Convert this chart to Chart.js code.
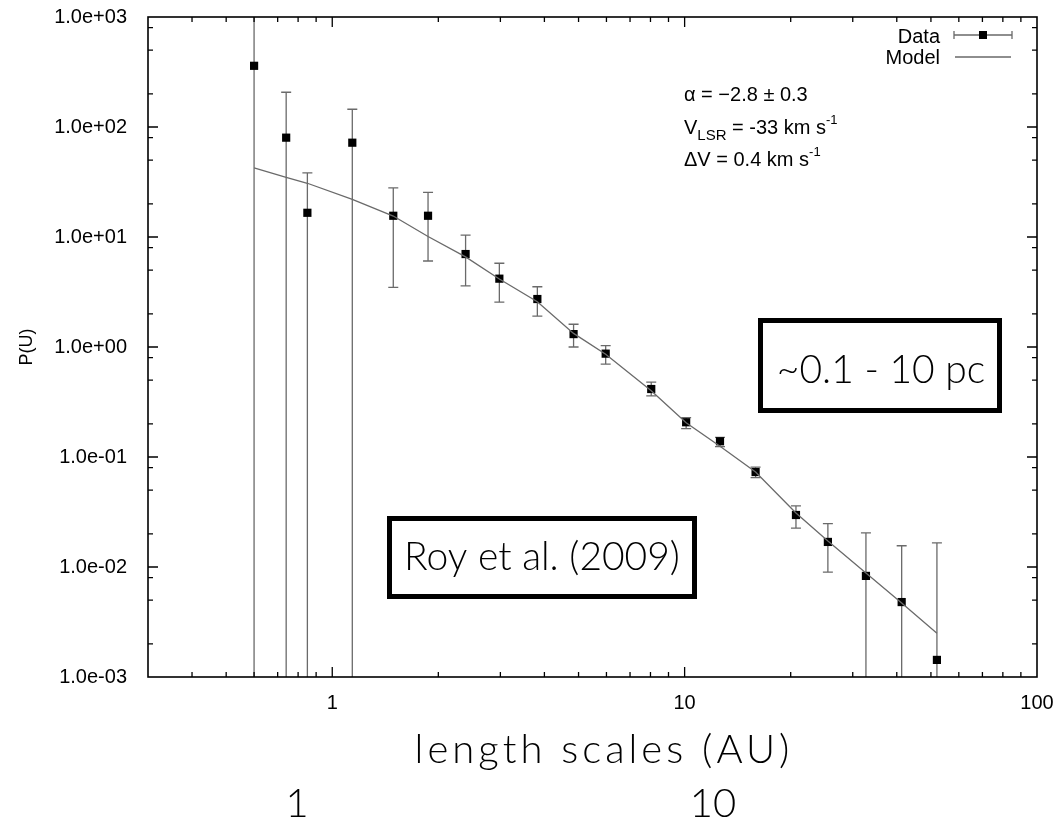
<!DOCTYPE html>
<html>
<head>
<meta charset="utf-8">
<script src="https://cdn.jsdelivr.net/npm/chart.js@4.4.1/dist/chart.umd.min.js"></script>
<style>
html,body{margin:0;padding:0;background:#fff;}
</style>
</head>
<body>
<canvas id="myChart" width="1055" height="819"></canvas>
<script>
// length scales (AU) of the measured points
var lengthAU = [0.60, 0.74, 0.85, 1.14, 1.49, 1.87, 2.39, 2.98, 3.82, 4.84, 5.97, 8.04, 10.1, 12.6, 15.9, 20.7, 25.5, 32.7, 41.3, 52.0];
// P(U) and its error bar ends (bottoms off the axis are shown as 1e-4)
var pData = [360, 80, 16.6, 72, 15.6, 15.6, 7.0, 4.18, 2.73, 1.31, 0.87, 0.415, 0.207, 0.139, 0.073, 0.0297, 0.0169, 0.0083, 0.0048, 0.00143];
var errHigh = [3000, 207, 38.2, 145, 28, 25.5, 10.4, 5.77, 3.53, 1.61, 1.03, 0.48, 0.228, 0.151, 0.081, 0.036, 0.0248, 0.0204, 0.0156, 0.0166];
var errLow = [0.0001, 0.0001, 0.0001, 0.0001, 3.49, 6.05, 3.6, 2.56, 1.91, 1.0, 0.70, 0.36, 0.181, 0.124, 0.065, 0.0226, 0.009, 0.0001, 0.0001, 0.0001];
// fitted model
var pModel = [42.4, 34.9, 30.8, 22, 15.5, 10.1, 6.6, 4.15, 2.58, 1.33, 0.86, 0.40, 0.205, 0.125, 0.073, 0.031, 0.0172, 0.0088, 0.0047, 0.0025];

var xMajorTicks = [1, 10, 100];
var xTickLabels = ['1', '10', '100'];
var xMinorTicks = [0.3, 0.4, 0.5, 0.6, 0.7, 0.8, 0.9, 2, 3, 4, 5, 6, 7, 8, 9, 20, 30, 40, 50, 60, 70, 80, 90];
var yMajorTicks = [0.001, 0.01, 0.1, 1, 10, 100, 1000];
var yTickLabels = ['1.0e-03', '1.0e-02', '1.0e-01', '1.0e+00', '1.0e+01', '1.0e+02', '1.0e+03'];
var yMinorTicks = [0.002, 0.005, 0.008, 0.02, 0.05, 0.08, 0.2, 0.5, 0.8, 2, 5, 8, 20, 50, 80, 200, 500, 800];

var SANS = "'Liberation Sans', Arial, sans-serif";
var THIN = "Lato, 'Open Sans', sans-serif";
var GREY = '#6a6a6a';

function labelFor(v, majors, labels){
	for(var i=0;i<majors.length;i++){
		if(Math.abs(v/majors[i]-1)<1e-6) return labels[i];
	}
	return '';
}
function isMajor(v){
	var l=Math.log10(v);
	return Math.abs(l-Math.round(l))<1e-6;
}
function tickList(a, b){
	return a.concat(b).sort(function(p,q){return p-q;}).map(function(v){return {value:v};});
}

var extras = {
	id: 'extras',
	beforeDatasetsDraw: function(chart){
		var ctx=chart.ctx, xs=chart.scales.x, ys=chart.scales.y, a=chart.chartArea;
		ctx.save();
		ctx.beginPath();
		ctx.rect(a.left, a.top, a.right-a.left, a.bottom-a.top);
		ctx.clip();
		ctx.strokeStyle=GREY;
		ctx.lineWidth=1.3;
		for(var i=0;i<lengthAU.length;i++){
			var px=xs.getPixelForValue(lengthAU[i]);
			var y1=ys.getPixelForValue(errHigh[i]), y2=ys.getPixelForValue(errLow[i]);
			ctx.beginPath();
			ctx.moveTo(px,y1); ctx.lineTo(px,y2);
			ctx.moveTo(px-5,y1); ctx.lineTo(px+5,y1);
			ctx.moveTo(px-5,y2); ctx.lineTo(px+5,y2);
			ctx.stroke();
		}
		ctx.restore();
	},
	afterDraw: function(chart){
		var ctx=chart.ctx, xs=chart.scales.x, ys=chart.scales.y, a=chart.chartArea;
		ctx.save();
		// frame + inward ticks on all sides
		ctx.strokeStyle='#000';
		ctx.lineWidth=1.6;
		ctx.strokeRect(a.left, a.top, a.right-a.left, a.bottom-a.top);
		ctx.lineWidth=1.3;
		ctx.beginPath();
		xs.ticks.forEach(function(t){
			var px=xs.getPixelForValue(t.value);
			if(px<=a.left+1||px>=a.right-1) return;
			var len=isMajor(t.value)?10:5;
			ctx.moveTo(px,a.bottom); ctx.lineTo(px,a.bottom-len);
			ctx.moveTo(px,a.top); ctx.lineTo(px,a.top+len);
		});
		ys.ticks.forEach(function(t){
			var py=ys.getPixelForValue(t.value);
			if(py<=a.top+1||py>=a.bottom-1) return;
			var len=isMajor(t.value)?10:5;
			ctx.moveTo(a.left,py); ctx.lineTo(a.left+len,py);
			ctx.moveTo(a.right,py); ctx.lineTo(a.right-len,py);
		});
		ctx.stroke();

		// legend
		ctx.fillStyle='#000';
		ctx.font='20px '+SANS;
		ctx.textAlign='right';
		ctx.textBaseline='alphabetic';
		ctx.fillText('Data', 940, 43);
		ctx.fillText('Model', 940, 64);
		ctx.strokeStyle=GREY;
		ctx.beginPath();
		ctx.moveTo(954,35); ctx.lineTo(1012,35);
		ctx.moveTo(954,31); ctx.lineTo(954,39);
		ctx.moveTo(1012,31); ctx.lineTo(1012,39);
		ctx.moveTo(955,57); ctx.lineTo(1011,57);
		ctx.stroke();
		ctx.fillRect(979,31,8,8);

		// fit parameters
		ctx.textAlign='left';
		var x0=684;
		ctx.font='20px '+SANS;
		ctx.fillText('\u03b1 = \u22122.8 \u00b1 0.3', x0, 101);
		var x=x0;
		ctx.fillText('V', x, 134); x+=ctx.measureText('V').width;
		ctx.font='15px '+SANS;
		ctx.fillText('LSR', x, 140); x+=ctx.measureText('LSR').width;
		ctx.font='20px '+SANS;
		ctx.fillText(' = -33 km s', x, 134); x+=ctx.measureText(' = -33 km s').width;
		ctx.font='13px '+SANS;
		ctx.fillText('-1', x, 124);
		x=x0;
		ctx.font='20px '+SANS;
		ctx.fillText('\u0394V = 0.4 km s', x, 166); x+=ctx.measureText('\u0394V = 0.4 km s').width;
		ctx.font='13px '+SANS;
		ctx.fillText('-1', x, 156);

		// boxed notes
		ctx.strokeStyle='#000';
		ctx.lineWidth=5;
		ctx.strokeRect(389.5,518.5,305,78);
		ctx.strokeRect(760.5,320.5,239,90);
		ctx.font='300 39px '+THIN;
		ctx.textAlign='center';
		ctx.fillStyle='#000';
		ctx.fillText('Roy et al. (2009)', 542, 570);
		ctx.fillText('~0.1 - 10 pc', 881, 383);

		// axis title, widely spaced as in the slide
		ctx.font='300 40px '+THIN;
		ctx.letterSpacing='4px';
		ctx.fillText('length scales (AU)', 604, 763);
		// second row of scale labels under the axis title
		ctx.letterSpacing='0px';
		ctx.font='300 40px '+THIN;
		ctx.fillText('1', 297, 817);
		ctx.fillText('10', 713, 817);
		ctx.restore();
	}
};

var ctx = document.getElementById("myChart");
var myChart = new Chart(ctx, {
	type: 'scatter',
	data: {
		datasets: [
			{
				type: 'line',
				label: 'Model',
				data: lengthAU.map(function(v,i){return {x:v, y:pModel[i]};}),
				borderColor: GREY,
				borderWidth: 1.3,
				pointRadius: 0,
				fill: false,
				tension: 0
			},
			{
				label: 'Data',
				data: lengthAU.map(function(v,i){return {x:v, y:pData[i]};}),
				pointStyle: 'rect',
				pointRadius: 5.8,
				backgroundColor: '#000',
				borderWidth: 0
			}
		]
	},
	options: {
		responsive: false,
		animation: false,
		layout: { padding: { left: 0, right: 18, top: 17, bottom: 0 } },
		plugins: { legend: { display: false }, tooltip: { enabled: false } },
		scales: {
			x: {
				type: 'logarithmic',
				min: 0.3,
				max: 100,
				grid: { display: false },
				border: { display: false },
				afterBuildTicks: function(scale){ scale.ticks = tickList(xMajorTicks, xMinorTicks); },
				afterFit: function(scale){ scale.height = 142; scale.paddingRight = 0; scale.paddingLeft = 0; },
				ticks: {
					autoSkip: false,
					maxRotation: 0,
					padding: 6,
					color: '#000',
					font: { family: SANS, size: 20 },
					callback: function(v){ return labelFor(v, xMajorTicks, xTickLabels); }
				}
			},
			y: {
				type: 'logarithmic',
				min: 0.001,
				max: 1000,
				grid: { display: false },
				border: { display: false },
				afterBuildTicks: function(scale){ scale.ticks = tickList(yMajorTicks, yMinorTicks); },
				afterFit: function(scale){ scale.width = 148; scale.paddingTop = 0; scale.paddingBottom = 0; },
				ticks: {
					autoSkip: false,
					padding: 13,
					color: '#000',
					font: { family: SANS, size: 20 },
					callback: function(v){ return labelFor(v, yMajorTicks, yTickLabels); }
				},
				title: {
					display: true,
					text: 'P(U)',
					color: '#000',
					font: { family: SANS, size: 18 },
					padding: { top: 16, bottom: 0 }
				}
			}
		}
	},
	plugins: [extras]
});
</script>
</body>
</html>
